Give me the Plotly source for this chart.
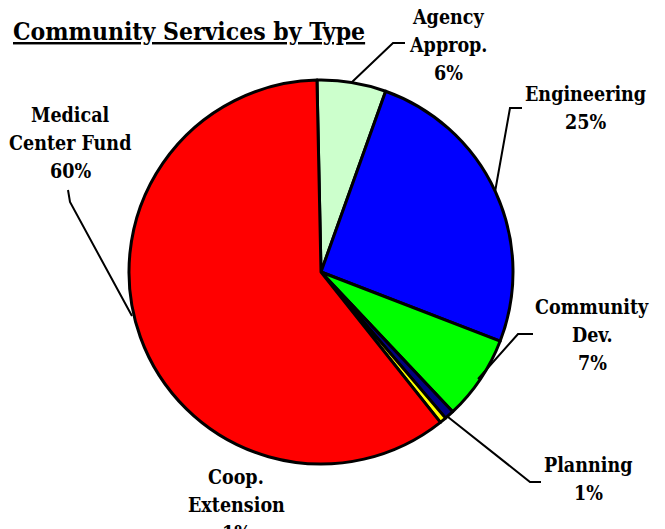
import plotly.graph_objects as go

W, H = 665, 529

# ---- data ----
categories = ["Agency\nApprop.", "Engineering", "Community\nDev.", "Planning", "Coop.\nExtension", "Medical\nCenter Fund"]
shares = [5.8, 25.4, 7.1, 0.8, 0.55, 60.35]
colors = ["#CCFFCC", "#0000FF", "#00FF00", "#000080", "#FFFF00", "#FF0000"]

# ---- layout constants (pixels) ----
pie_cx, pie_cy, pie_r = 321, 272, 192
label_pos = [(448, 25), (585, 102), (592, 315), (588, 473), (236, 485), (70, 123)]  # center x, first baseline
line_gap = 28
label_font = 19.5
title_font = 24.5
leaders = [
    [(405, 43), (393, 43), (351, 83)],
    [(522, 108), (510, 108), (495, 192)],
    [(533, 334), (518, 334), (478, 379)],
    [(541, 482), (530, 482), (448, 417)],
    None,
    [(68, 190), (70, 202), (132, 316)],
]

FONT = "DejaVu Serif Condensed, DejaVu Serif, serif"

def px(x):
    return x / W

def py(y):
    return 1 - y / H

fig = go.Figure(go.Pie(
    labels=[c.replace("\n", " ") for c in categories],
    values=shares,
    marker=dict(colors=colors, line=dict(color="black", width=3)),
    sort=False,
    direction="clockwise",
    rotation=-1.2,
    textinfo="none",
    hoverinfo="label+percent",
    domain=dict(x=[px(pie_cx - pie_r), px(pie_cx + pie_r)],
                y=[py(pie_cy + pie_r), py(pie_cy - pie_r)]),
    showlegend=False,
))

total = sum(shares)
annotations = []
for cat, val, (cx, by) in zip(categories, shares, label_pos):
    lines = cat.split("\n") + [f"{round(100 * val / total)}%"]
    for i, t in enumerate(lines):
        base = by + i * line_gap
        annotations.append(dict(
            x=px(cx), y=py(base - 0.36 * label_font), xref="paper", yref="paper",
            text=f"<b>{t}</b>", showarrow=False, xanchor="center", yanchor="middle",
            font=dict(family=FONT, size=label_font, color="black"),
        ))

annotations.append(dict(
    x=px(189), y=py(40 - 0.36 * title_font), xref="paper", yref="paper",
    text="<b><u>Community Services by Type</u></b>", showarrow=False,
    xanchor="center", yanchor="middle",
    font=dict(family=FONT, size=title_font, color="black"),
))

shapes = []
for pts in leaders:
    if not pts:
        continue
    path = "M " + " L ".join(f"{px(x)},{py(y)}" for x, y in pts)
    shapes.append(dict(type="path", path=path, xref="paper", yref="paper",
                       line=dict(color="black", width=2)))

fig.update_layout(
    width=W, height=H,
    margin=dict(l=0, r=0, t=0, b=0),
    paper_bgcolor="white", plot_bgcolor="white",
    annotations=annotations, shapes=shapes,
)

fig.write_html("out.html")
